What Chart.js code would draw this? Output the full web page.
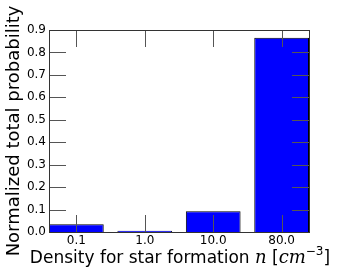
<!DOCTYPE html>
<html>
<head>
<meta charset="utf-8">
<script src="https://cdn.jsdelivr.net/npm/chart.js@4/dist/chart.umd.min.js"></script>
<style>
  html, body { margin: 0; padding: 0; background: #fff; }
  #wrap { width: 339px; height: 276px; }
</style>
</head>
<body>
<div id="wrap"><canvas id="chart"></canvas></div>
<script>
const categories = ['0.1', '1.0', '10.0', '80.0'];
const probability = [0.035, 0.006, 0.093, 0.866];
const yTickValues = [0, 0.1, 0.2, 0.3, 0.4, 0.5, 0.6, 0.7, 0.8, 0.9];

const TICK_LEN = 17;

// matplotlib-style frame with inward ticks on all four sides
const frameTicks = {
  id: 'frameTicks',
  afterDatasetsDraw(chart) {
    const { ctx, chartArea: a, scales } = chart;
    ctx.save();
    ctx.strokeStyle = '#555';
    ctx.lineWidth = 1;
    ctx.beginPath();
    scales.x.ticks.forEach(t => {
      const px = Math.round(scales.x.getPixelForValue(t.value)) + 0.5;
      ctx.moveTo(px, a.bottom); ctx.lineTo(px, a.bottom - TICK_LEN);
      ctx.moveTo(px, a.top); ctx.lineTo(px, a.top + TICK_LEN);
    });
    scales.y.ticks.forEach(t => {
      const py = Math.round(scales.y.getPixelForValue(t.value)) + 0.5;
      ctx.moveTo(a.left, py); ctx.lineTo(a.left + TICK_LEN, py);
      ctx.moveTo(a.right, py); ctx.lineTo(a.right - TICK_LEN, py);
    });
    ctx.stroke();
    ctx.strokeStyle = '#333';
    ctx.strokeRect(Math.round(a.left) + 0.5, Math.round(a.top) + 0.5,
      Math.round(a.right - a.left), Math.round(a.bottom - a.top));
    ctx.restore();
  }
};

// x label with mathtext-like italics and superscript
const xTitle = {
  id: 'xTitle',
  afterDraw(chart) {
    const { ctx } = chart;
    const parts = [
      { t: 'Density for star formation ', f: '17px "DejaVu Sans"', dy: 0 },
      { t: 'n', f: 'italic 18px "DejaVu Serif"', dy: 0 },
      { t: ' [', f: '17px "DejaVu Sans"', dy: 0 },
      { t: 'cm', f: 'italic 18px "DejaVu Serif"', dy: 0 },
      { t: '\u22123', f: '12px "DejaVu Sans"', dy: -8 },
      { t: ']', f: '17px "DejaVu Sans"', dy: 0 }
    ];
    ctx.save();
    ctx.fillStyle = '#000';
    ctx.textBaseline = 'alphabetic';
    let total = 0;
    parts.forEach(p => { ctx.font = p.f; p.w = ctx.measureText(p.t).width; total += p.w; });
    let x = 180 - total / 2;
    const y = 263;
    parts.forEach(p => { ctx.font = p.f; ctx.fillText(p.t, x, y + p.dy); x += p.w; });
    ctx.restore();
  }
};

new Chart(document.getElementById('chart'), {
  type: 'bar',
  data: {
    datasets: [{
      data: probability.map((v, i) => ({ x: i, y: v })),
      backgroundColor: '#0000ff',
      borderColor: '#000',
      borderWidth: 1,
      barPercentage: 0.8,
      categoryPercentage: 1.0
    }]
  },
  options: {
    responsive: true,
    maintainAspectRatio: false,
    animation: false,
    layout: { padding: { top: 30, right: 30, left: 0, bottom: 0 } },
    plugins: { legend: { display: false }, tooltip: { enabled: false } },
    scales: {
      x: {
        type: 'linear',
        min: -0.4,
        max: 3.4,
        offset: false,
        grid: { display: false, drawTicks: false, offset: false },
        border: { display: false },
        afterBuildTicks: s => { s.ticks = categories.map((c, i) => ({ value: i })); },
        afterFit: s => { s.height = 44; },
        ticks: {
          color: '#000',
          padding: 2,
          maxRotation: 0,
          font: { family: 'DejaVu Sans', size: 12 },
          callback: v => categories[v]
        }
      },
      y: {
        min: 0,
        max: 0.9,
        grid: { display: false, drawTicks: false },
        border: { display: false },
        afterBuildTicks: s => { s.ticks = yTickValues.map(v => ({ value: v })); },
        afterFit: s => { s.width = 49; },
        title: {
          display: true,
          text: 'Normalized total probability',
          color: '#000',
          font: { family: 'DejaVu Sans', size: 18, weight: 'normal' },
          padding: { top: 4, bottom: 0 }
        },
        ticks: {
          color: '#000',
          padding: 3,
          font: { family: 'DejaVu Sans', size: 12 },
          callback: v => Number(v).toFixed(1)
        }
      }
    }
  },
  plugins: [frameTicks, xTitle]
});
</script>
</body>
</html>
